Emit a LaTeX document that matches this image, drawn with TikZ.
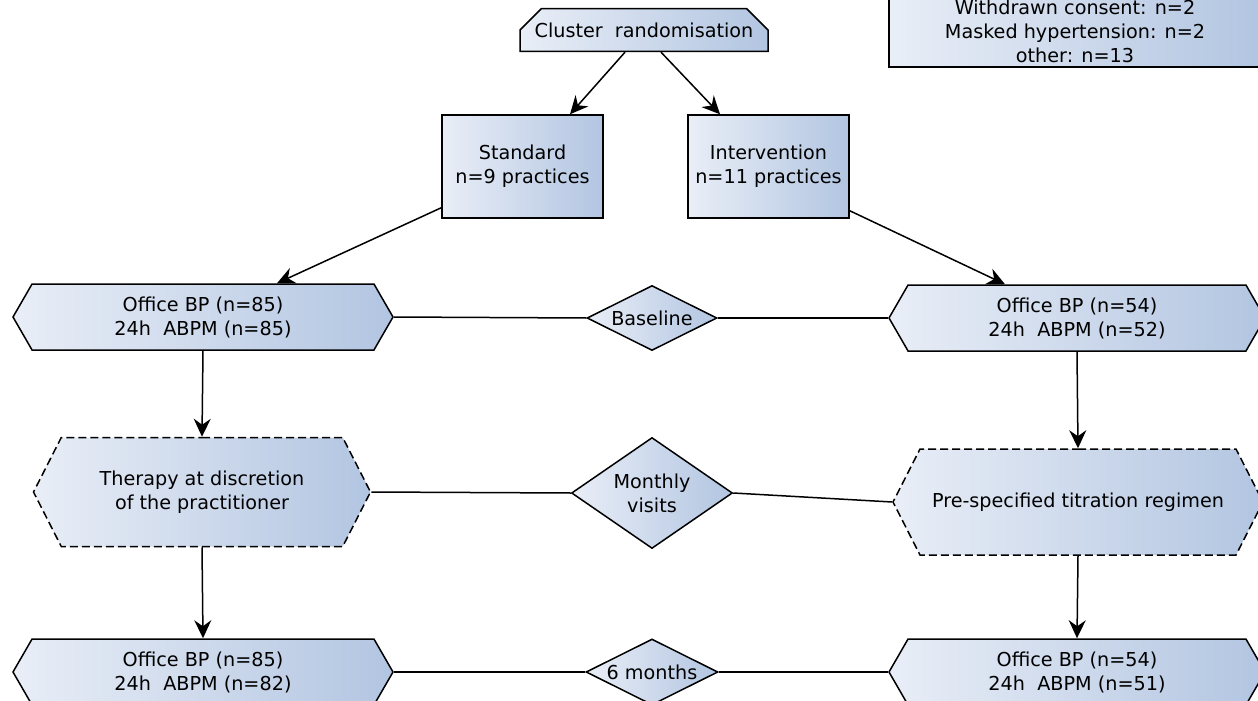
\documentclass[tikz,border=0pt]{standalone}
\usepackage{fontspec}
\setmainfont{DejaVu Sans}
\usepackage{xcolor}
\usetikzlibrary{shapes.geometric, shapes.misc, shapes.symbols, arrows.meta, calc}

\definecolor{paleblue}{RGB}{233,238,247}
\definecolor{midblue}{RGB}{178,197,225}

\begin{document}
\begin{tikzpicture}[
  x=0.5pt, y=-0.5pt,
  font=\fontsize{9.6}{12}\selectfont,
  grad/.style={left color=paleblue, right color=midblue},
  box/.style={draw, grad, line width=0.75pt, align=center, inner sep=0pt},
  hexa/.style={box, signal, signal to=west and east, signal from=nowhere,
               signal pointer angle=120, minimum width=188pt, minimum height=33pt},
  plan/.style={hexa, dash pattern=on 4pt off 2pt, signal pointer angle=126},
  stage/.style={box, diamond, aspect=2},
  arr/.style={-{Stealth[length=9pt, width=8.5pt, inset=3pt]}, line width=0.75pt},
  link/.style={line width=0.75pt}
]
\useasboundingbox (0,0) rectangle (1258,701);
\clip (0,0) rectangle (1258,701);

% exclusions (top right)
\node[box, minimum width=186pt, minimum height=36pt] (excl) at (1075,31)
  {Withdrawn consent: n=2\\Masked hypertension: n=2\\other: n=13};

% randomisation
\node[box, chamfered rectangle, chamfered rectangle corners={north west, north east},
      chamfered rectangle sep=7pt, minimum width=124pt, minimum height=20pt]
      (clust) at (644,30) {Cluster\ \ randomisation};
\node[box, minimum width=80.5pt, minimum height=51.5pt] (stand) at (522.5,166.5)
  {Standard\\n=9 practices};
\node[box, minimum width=80.5pt, minimum height=51.5pt] (interv) at (768.5,166.5)
  {Intervention\\n=11 practices};

% baseline
\node[hexa, minimum width=190pt] (offL1) at (203,317) {Office BP (n=85)\\24h\ \ ABPM (n=85)};
\node[stage, minimum width=65pt, minimum height=32.5pt] (base) at (652,318) {Baseline};
\node[hexa] (offR1) at (1077,318) {Office BP (n=54)\\24h\ \ ABPM (n=52)};

% monthly visits
\node[plan, minimum width=168.5pt, minimum height=54.5pt] (ther) at (202,492)
  {Therapy at discretion\\of the practitioner};
\node[stage, aspect=1.45, minimum width=80.5pt, minimum height=55.5pt] (month) at (652,493)
  {Monthly\\visits};
\node[plan, minimum width=185pt, minimum height=53pt] (titr) at (1078,502)
  {Pre-specified titration regimen};

% 6 months
\node[hexa, minimum width=190pt] (offL2) at (203,672) {Office BP (n=85)\\24h\ \ ABPM (n=82)};
\node[stage, minimum width=66pt, minimum height=33pt] (six) at (652,672) {6 months};
\node[hexa] (offR2) at (1077,672) {Office BP (n=54)\\24h\ \ ABPM (n=51)};

\draw[arr] ($(clust.south)+(-19,0)$) -- ($(stand.north)+(47.5,0)$);
\draw[arr] ($(clust.south)+(17,0)$) -- ($(interv.north)+(-48.5,0)$);
\draw[arr] ($(stand.south west)+(0,-11)$) -- ($(offL1.north)+(74,0)$);
\draw[arr] ($(interv.south east)+(0,-8)$) -- ($(offR1.north)+(-72,0)$);

\draw[link] (offL1.east) -- (base.west);
\draw[link] (base.east) -- (offR1.west);
\draw[link] (ther.east) -- (month.west);
\draw[link] (month.east) -- (titr.west);
\draw[link] (offL2.east) -- (six.west);
\draw[link] (six.east) -- (offR2.west);

\draw[arr] (offL1.south) -- (ther.north);
\draw[arr] (offR1.south) -- (titr.north);
\draw[arr] (ther.south) -- (offL2.north);
\draw[arr] (titr.south) -- (offR2.north);
\end{tikzpicture}
\end{document}
